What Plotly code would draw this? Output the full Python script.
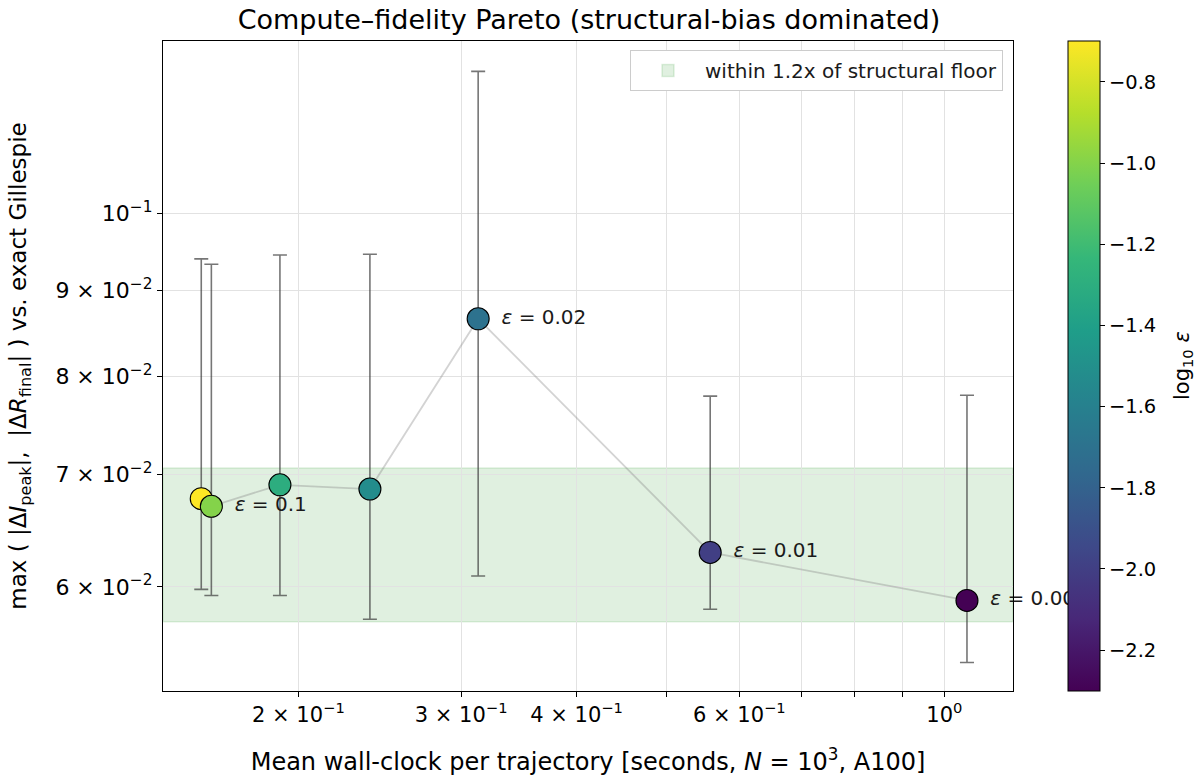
import numpy as np
import plotly.graph_objects as go

# ---------------- data ----------------
eps = [0.2, 0.1, 0.05, 0.03, 0.02, 0.01, 0.005]
wall_clock = [0.157, 0.161, 0.191, 0.239, 0.313, 0.558, 1.058]
err_max = [0.0677, 0.0670, 0.0690, 0.0686, 0.0866, 0.0629, 0.0589]
err_hi = [0.0940, 0.0933, 0.0945, 0.0946, 0.1215, 0.0779, 0.0780]
err_lo = [0.0598, 0.0593, 0.0593, 0.0574, 0.0609, 0.0582, 0.0541]
label_eps = ["", "0.1", "", "", "0.02", "0.01", "0.005"]
band_lo, band_hi = 0.0572, 0.0706
band_name = "within 1.2x of structural floor"

x_tickvals = [0.2, 0.3, 0.4, 0.5, 0.6, 0.7, 0.8, 0.9, 1.0]
x_ticktext = ["2 × 10<sup>−1</sup>", "3 × 10<sup>−1</sup>", "4 × 10<sup>−1</sup>", "",
              "6 × 10<sup>−1</sup>", "", "", "", "10<sup>0</sup>"]
y_tickvals = [0.06, 0.07, 0.08, 0.09, 0.1]
y_ticktext = ["6 × 10<sup>−2</sup>", "7 × 10<sup>−2</sup>", "8 × 10<sup>−2</sup>",
              "9 × 10<sup>−2</sup>", "10<sup>−1</sup>"]
cb_tickvals = [-2.2, -2.0, -1.8, -1.6, -1.4, -1.2, -1.0, -0.8]
cb_ticktext = ["−2.2", "−2.0", "−1.8", "−1.6", "−1.4", "−1.2", "−1.0", "−0.8"]

x_range_log = [-0.8455, 0.0743]
y_range_log = [-1.2837, -0.8974]

FONT = "DejaVu Sans"
# ----------------------------------------------------------------

y = np.array(err_max)
hi = np.array(err_hi)
lo = np.array(err_lo)
logeps = np.log10(eps)

fig = go.Figure()

# connecting line
fig.add_trace(go.Scatter(
    x=wall_clock, y=err_max, mode="lines",
    line=dict(color="rgba(128,128,128,0.35)", width=1.8),
    showlegend=False, hoverinfo="skip"))

# error bars + coloured markers
fig.add_trace(go.Scatter(
    x=wall_clock, y=err_max, mode="markers",
    error_y=dict(type="data", symmetric=False, array=hi - y, arrayminus=y - lo,
                 color="rgba(60,60,60,0.7)", thickness=1.6, width=7),
    marker=dict(size=22, color=logeps, colorscale="Viridis",
                cmin=float(np.log10(min(eps))), cmax=float(np.log10(max(eps))),
                line=dict(color="black", width=1.1),
                showscale=True,
                colorbar=dict(thickness=32, len=1, lenmode="fraction",
                              x=(1068 - 163) / 850, xanchor="left", xpad=0,
                              y=0.5, yanchor="middle", ypad=0,
                              outlinewidth=1, outlinecolor="black",
                              tickmode="array", tickvals=cb_tickvals, ticktext=cb_ticktext,
                              ticks="outside", ticklen=5, tickcolor="black",
                              tickfont=dict(family=FONT, size=19.5, color="black"))),
    showlegend=False, hoverinfo="skip"))

# epsilon labels
fig.add_trace(go.Scatter(
    x=wall_clock, y=err_max, mode="markers+text",
    text=[f"<i>ε</i> = {s}" if s else "" for s in label_eps],
    textposition="middle right",
    textfont=dict(family=FONT, size=20, color="#1a1a1a"),
    marker=dict(size=35.7, color="rgba(0,0,0,0)"),
    cliponaxis=False, showlegend=False, hoverinfo="skip"))

# structural-floor band
fig.add_shape(type="rect", xref="x domain", x0=0, x1=1, yref="y", y0=band_lo, y1=band_hi,
              fillcolor="rgba(0,128,0,0.12)", line=dict(color="rgba(0,128,0,0.12)", width=1.5),
              layer="below", showlegend=True, name=band_name)

fig.update_xaxes(type="log", range=x_range_log, tickmode="array",
                 tickvals=x_tickvals, ticktext=x_ticktext,
                 showgrid=True, gridcolor="rgb(226,226,226)", gridwidth=1.3,
                 showline=True, linecolor="black", linewidth=1.2, mirror=True,
                 ticks="outside", ticklen=5, tickcolor="black", automargin=False,
                 tickfont=dict(family=FONT, size=21, color="black"),
                 title=dict(text="Mean wall-clock per trajectory [seconds, <i>N</i> = 10<sup>3</sup>, A100]",
                            font=dict(family=FONT, size=24, color="black"), standoff=26),
                 zeroline=False)
fig.update_yaxes(type="log", range=y_range_log, tickmode="array",
                 tickvals=y_tickvals, ticktext=y_ticktext,
                 showgrid=True, gridcolor="rgb(226,226,226)", gridwidth=1.3,
                 showline=True, linecolor="black", linewidth=1.2, mirror=True,
                 ticks="outside", ticklen=5, tickcolor="black", automargin=False,
                 tickfont=dict(family=FONT, size=22, color="black"),
                 title=dict(text="max ( |Δ<i>I</i><sub>peak</sub>|,  |Δ<i>R</i><sub>final</sub>| ) vs. exact Gillespie",
                            font=dict(family=FONT, size=23, color="black"), standoff=22),
                 zeroline=False)

fig.add_annotation(text="log<sub>10</sub> <i>ε</i>", xref="paper", yref="paper",
                   x=(1183 - 163) / 850, y=0.5, textangle=-90, showarrow=False,
                   font=dict(family=FONT, size=21, color="black"),
                   xanchor="center", yanchor="middle")

fig.update_layout(
    width=1196, height=778,
    margin=dict(l=163, r=183, t=41, b=87),
    paper_bgcolor="white", plot_bgcolor="white",
    title=dict(text="Compute–fidelity Pareto (structural-bias dominated)",
               x=(589) / 1196, xanchor="center", y=1 - 20 / 778, yanchor="middle",
               yref="container", xref="container",
               font=dict(family=FONT, size=27, color="black")),
    legend=dict(x=(1003 - 163) / 850, xanchor="right", y=1 - (50 - 41) / 650, yanchor="top",
                bgcolor="white", bordercolor="#cccccc", borderwidth=1, itemwidth=64,
                font=dict(family=FONT, size=20, color="#1a1a1a")),
    font=dict(family=FONT, color="black"),
)

fig.write_html("out.html")
